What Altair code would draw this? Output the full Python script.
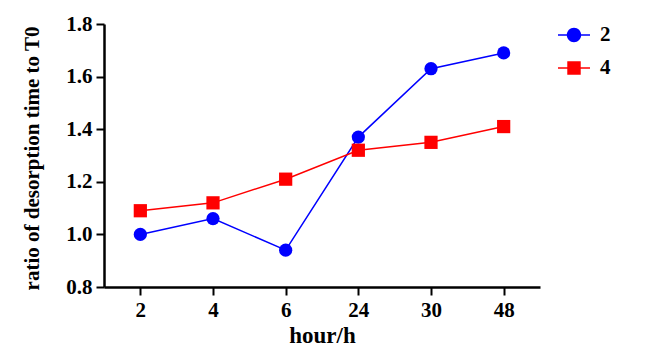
import altair as alt
import pandas as pd

hours = ["2", "4", "6", "24", "30", "48"]
series_2 = [1.00, 1.06, 0.94, 1.37, 1.63, 1.69]
series_4 = [1.09, 1.12, 1.21, 1.32, 1.35, 1.41]
series_names = ["2", "4"]
colors = ["#0000ff", "#ff0000"]
y_ticks = [0.8, 1.0, 1.2, 1.4, 1.6, 1.8]

rows = []
for h, v in zip(hours, series_2):
    rows.append({"hour": h, "value": v, "series": "2"})
for h, v in zip(hours, series_4):
    rows.append({"hour": h, "value": v, "series": "4"})
df = pd.DataFrame(rows)

FONT = "Liberation Serif"

x_enc = alt.X("hour:N", sort=hours,
              scale=alt.Scale(type="point", padding=0.5),
              axis=alt.Axis(title="hour/h", labelAngle=0, titleX=218, titleY=55,
                            titleBaseline="alphabetic", titleAlign="center"))
y_enc = alt.Y("value:Q", scale=alt.Scale(domain=[0.8, 1.8], nice=False, zero=False),
              axis=alt.Axis(title="ratio of desorption time to T0", values=y_ticks,
                            format=".1f", titleX=-72, titleY=134, titleAngle=-90,
                            titleAlign="center", titleBaseline="middle"))
color_scale = alt.Scale(domain=series_names, range=colors)

lines = alt.Chart(df).mark_line(strokeWidth=1.5).encode(
    x=x_enc, y=y_enc,
    color=alt.Color("series:N", scale=color_scale, legend=None),
)
points = alt.Chart(df).mark_point(filled=True, opacity=1, size=175).encode(
    x=x_enc, y=y_enc,
    color=alt.Color("series:N", scale=color_scale, legend=None),
    shape=alt.Shape("series:N", scale=alt.Scale(domain=series_names, range=["circle", "square"]), legend=None),
)

circ_path = ("M-1,-0.05H1V0.05H-1Z "
             "M0.45,0A0.45,0.45,0,1,1,-0.45,0A0.45,0.45,0,1,1,0.45,0Z")
sq_path = "M-1,-0.05H1V0.05H-1Z M-0.42,-0.42H0.42V0.42H-0.42Z"

leg = alt.Legend(title=None, orient="none", legendX=454, legendY=-5,
                 symbolSize=1024, labelOffset=10, rowPadding=7,
                 labelFont=FONT, labelFontSize=21, labelFontWeight="bold",
                 labelColor="#000000", symbolOpacity=1, symbolStrokeWidth=0)

legend_layer = alt.Chart(df).transform_filter("false").mark_point(filled=True, opacity=1, size=1024).encode(
    x=x_enc, y=y_enc,
    color=alt.Color("series:N", scale=color_scale, legend=leg),
    shape=alt.Shape("series:N", scale=alt.Scale(domain=series_names, range=[circ_path, sq_path]),
                    legend=leg),
)

chart = alt.layer(lines, points, legend_layer).resolve_scale(
    shape="independent", color="independent"
).properties(
    width=436, height=263,
    autosize=alt.AutoSizeParams(type="none"),
    padding={"left": 96, "top": 16, "right": 97, "bottom": 61},
).configure_view(stroke=None).configure_axis(
    domainColor="#000000", domainWidth=2.5, tickColor="#000000", tickWidth=2, tickSize=8,
    labelFont=FONT, labelFontSize=21, labelFontWeight="bold", labelColor="#000000",
    titleFont=FONT, titleFontSize=21, titleFontWeight="bold", titleColor="#000000",
    grid=False, labelPadding=4,
).configure_axisX(titleFontSize=23)

chart.save("out.html", embed_options={"renderer": "svg", "actions": False})
